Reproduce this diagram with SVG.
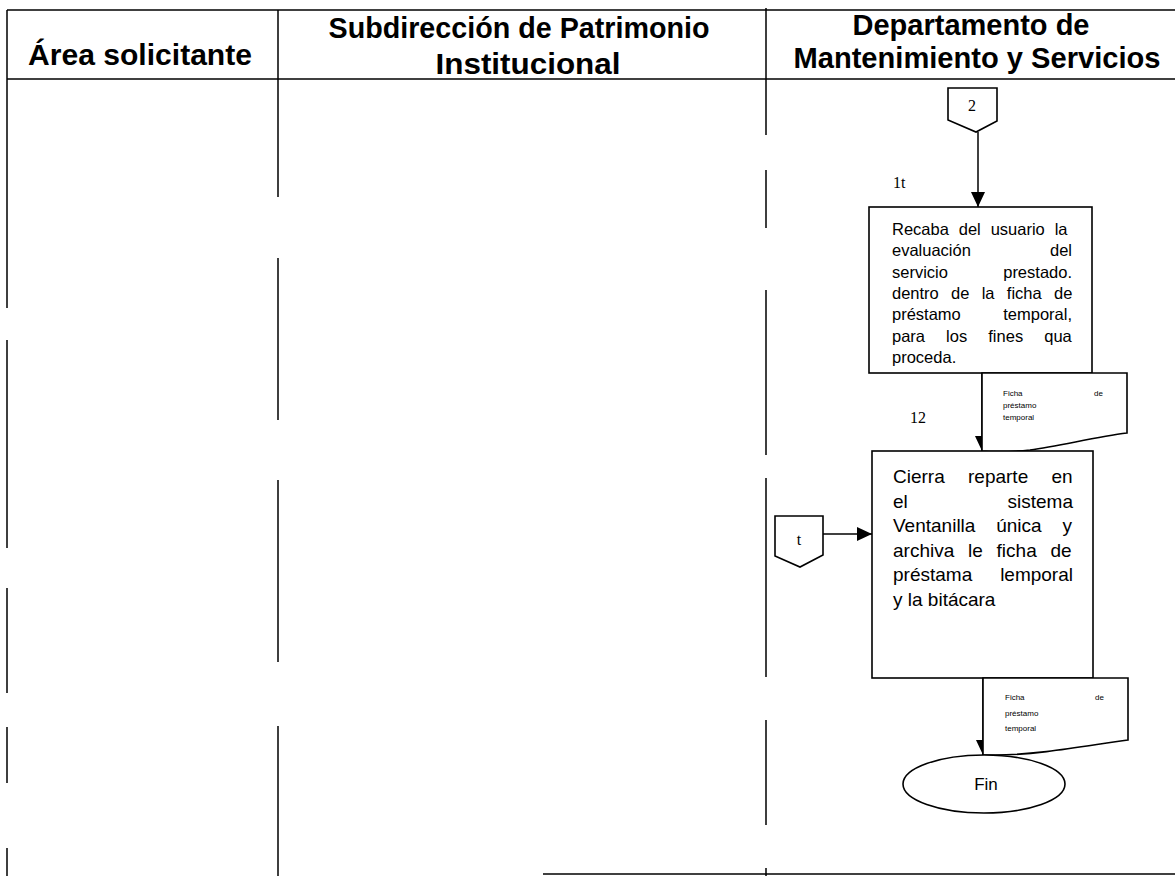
<svg xmlns="http://www.w3.org/2000/svg" width="1175" height="876" viewBox="0 0 1175 876">
  <style>
    .ln { stroke: #000; stroke-width: 1.5; fill: none; }
    .shape { fill: #fff; stroke: #000; stroke-width: 1.6; }
    .hdr { font-family: "Liberation Sans", Arial, sans-serif; font-weight: bold; font-size: 29px; text-anchor: middle; fill: #000; }
    .txt { font-family: "Liberation Sans", Arial, sans-serif; fill: #000; }
    .t1 { font-size: 16.5px; }
    .t2 { font-size: 19px; }
    .tiny { font-size: 8px; }
    .serif { font-family: "Liberation Serif", "Times New Roman", serif; font-size: 16px; fill: #000; }
  </style>
  <defs>
    <marker id="arrow" viewBox="0 0 15 14" refX="15" refY="7" markerWidth="15" markerHeight="14" markerUnits="userSpaceOnUse" orient="auto">
      <path d="M0,0 L15,7 L0,14 Z" fill="#000"/>
    </marker>
  </defs>

  <rect width="1175" height="876" fill="#fff"/>

  <!-- swimlane frame: header rules and lane dividers (broken as printed) -->
  <g id="lanes" class="ln">
    <line x1="7" y1="10" x2="1175" y2="10"/>
    <line x1="7" y1="79" x2="1175" y2="79"/>
    <path d="M7,10 V308 M7,340 V548 M7,588 V693 M7,727 V783 M7,848 V876"/>
    <path d="M278,10 V197 M278,258 V420 M278,480 V662 M278,726 V876"/>
    <path d="M766,8 V135 M766,170 V228 M766,290 V455 M766,478 V677 M766,720 V825 M766,868 V876"/>
    <line x1="543" y1="874" x2="1175" y2="874"/>
  </g>

  <!-- lane headings -->
  <g id="headers">
    <text class="hdr" x="140" y="65" textLength="224" lengthAdjust="spacingAndGlyphs">Área solicitante</text>
    <text class="hdr" x="519" y="38" textLength="381" lengthAdjust="spacingAndGlyphs">Subdirección de Patrimonio</text>
    <text class="hdr" x="528" y="74" textLength="185" lengthAdjust="spacingAndGlyphs">Institucional</text>
    <text class="hdr" x="971" y="35" textLength="237" lengthAdjust="spacingAndGlyphs">Departamento de</text>
    <text class="hdr" x="977" y="68" textLength="367" lengthAdjust="spacingAndGlyphs">Mantenimiento y Servicios</text>
  </g>

  <!-- connectors -->
  <g id="connectors" class="ln">
    <line x1="978" y1="132" x2="978" y2="207" marker-end="url(#arrow)"/>
    <line x1="982" y1="373" x2="982" y2="451" marker-end="url(#arrow)"/>
    <line x1="823" y1="534" x2="872" y2="534" marker-end="url(#arrow)"/>
    <line x1="983" y1="678" x2="983" y2="755" marker-end="url(#arrow)"/>
  </g>

  <!-- off-page connector 2 -->
  <g id="conn-2">
    <path class="shape" d="M948,88 H997 V121 L976,132 L948,120 Z"/>
    <text class="serif" x="972" y="111" text-anchor="middle">2</text>
  </g>

  <!-- step 11 -->
  <g id="step-11">
    <text class="serif" x="893" y="188">1t</text>
    <rect class="shape" x="869" y="207" width="223" height="166"/>
    <g class="txt t1">
      <text x="892" y="235" style="word-spacing:5.3px">Recaba del usuario la</text>
      <text x="892" y="256.3">evaluación</text>
      <text x="1072" y="256.3" text-anchor="end">del</text>
      <text x="892" y="277.6">servicio</text>
      <text x="1072" y="277.6" text-anchor="end">prestado.</text>
      <text x="892" y="299" style="word-spacing:7.7px">dentro de la ficha de</text>
      <text x="892" y="320.3">préstamo</text>
      <text x="1072" y="320.3" text-anchor="end">temporal,</text>
      <text x="892" y="341.6" style="word-spacing:16.5px">para los fines qua</text>
      <text x="892" y="363">proceda.</text>
    </g>
  </g>

  <!-- document: ficha de préstamo temporal -->
  <g id="doc-1">
    <path class="shape" d="M982,373 H1127 V433 C1095,437 1060,446 1030,450 C1010,452 995,452 982,451 Z"/>
    <g class="txt tiny">
      <text x="1003" y="396">Ficha</text>
      <text x="1103" y="396" text-anchor="end">de</text>
      <text x="1003" y="408">préstamo</text>
      <text x="1003" y="420">temporal</text>
    </g>
  </g>

  <!-- step 12 -->
  <g id="step-12">
    <text class="serif" x="910" y="423">12</text>
    <rect class="shape" x="872" y="451" width="221" height="227"/>
    <g class="txt t2">
      <text x="893" y="483" style="word-spacing:18px">Cierra reparte en</text>
      <text x="893" y="507.5">el</text>
      <text x="1073" y="507.5" text-anchor="end">sistema</text>
      <text x="893" y="532" style="word-spacing:15.5px">Ventanilla única y</text>
      <text x="893" y="556.5" style="word-spacing:8.5px">archiva le ficha de</text>
      <text x="893" y="581">préstama</text>
      <text x="1073" y="581" text-anchor="end">lemporal</text>
      <text x="893" y="605.5">y la bitácara</text>
    </g>
  </g>

  <!-- off-page connector t -->
  <g id="conn-t">
    <path class="shape" d="M775,516 H823 V555 L800,567 L775,556 Z"/>
    <text class="serif" x="799" y="545" text-anchor="middle">t</text>
  </g>

  <!-- document: ficha de préstamo temporal (archived) -->
  <g id="doc-2">
    <path class="shape" d="M983,678 H1128 V740 C1090,745 1040,755 995,755 L983,755 Z"/>
    <g class="txt tiny">
      <text x="1005" y="700">Ficha</text>
      <text x="1104" y="700" text-anchor="end">de</text>
      <text x="1005" y="716">préstamo</text>
      <text x="1005" y="731">temporal</text>
    </g>
  </g>

  <!-- terminator -->
  <g id="end">
    <ellipse class="shape" cx="984" cy="784" rx="81" ry="29"/>
    <text class="txt" x="986" y="790" font-size="17" text-anchor="middle">Fin</text>
  </g>
</svg>
